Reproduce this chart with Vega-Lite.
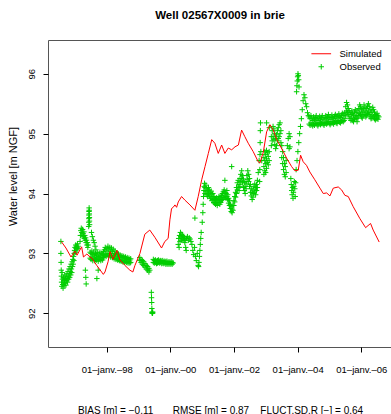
{
  "$schema": "https://vega.github.io/schema/vega-lite/v6.json",
  "autosize": {"type": "none"},
  "padding": {"left": 48, "top": 40, "right": 0, "bottom": 67},
  "width": 344,
  "height": 307,
  "background": "white",
  "title": {"text": "Well 02567X0009 in brie", "font": "Liberation Sans", "fontSize": 11.5, "fontWeight": "bold", "color": "black", "anchor": "middle", "frame": "group", "offset": 19},
  "config": {
    "view": {"stroke": "#555", "strokeWidth": 1},
    "font": "Liberation Sans",
    "axis": {"labelFont": "Liberation Sans", "titleFont": "Liberation Sans", "labelColor": "black", "titleColor": "black", "tickColor": "black", "domain": false, "grid": false, "tickSize": 5, "tickWidth": 1},
    "legend": {"title": null, "orient": "none", "legendX": 268.5, "legendY": 9, "labelFont": "Liberation Sans", "labelFontSize": 9.5, "labelColor": "black", "labelOffset": 13.5, "symbolSize": 30, "symbolStrokeWidth": 1, "rowPadding": 2, "padding": 0, "symbolFillColor": "transparent"}
  },
  "datasets": {
    "sim": [
      {"date":"1996-07-28","level":93.2},{"date":"1996-09-20","level":93.09},{"date":"1996-11-17","level":92.94},{"date":"1997-01-02","level":93.04},{"date":"1997-01-25","level":92.97},{"date":"1997-03-19","level":93.11},{"date":"1997-04-09","level":92.94},{"date":"1997-05-18","level":92.99},{"date":"1997-06-22","level":92.94},{"date":"1997-07-16","level":92.92},{"date":"1997-09-08","level":92.8},{"date":"1997-11-23","level":92.65},{"date":"1997-12-12","level":92.69},{"date":"1998-01-16","level":92.86},{"date":"1998-02-08","level":93.03},{"date":"1998-03-15","level":92.9},{"date":"1998-04-29","level":93.05},{"date":"1998-06-01","level":92.89},{"date":"1998-07-28","level":92.8},{"date":"1998-09-24","level":92.72},{"date":"1998-10-28","level":92.69},{"date":"1998-11-21","level":92.8},{"date":"1999-01-17","level":93.0},{"date":"1999-03-14","level":93.32},{"date":"1999-05-10","level":93.39},{"date":"1999-07-07","level":93.27},{"date":"1999-09-22","level":93.09},{"date":"1999-10-30","level":93.2},{"date":"1999-12-07","level":93.25},{"date":"1999-12-27","level":93.56},{"date":"2000-01-15","level":93.75},{"date":"2000-02-03","level":93.77},{"date":"2000-02-23","level":93.81},{"date":"2000-03-13","level":93.77},{"date":"2000-04-01","level":93.86},{"date":"2000-05-09","level":93.95},{"date":"2000-06-16","level":93.89},{"date":"2000-08-13","level":93.81},{"date":"2000-10-09","level":93.72},{"date":"2000-11-16","level":93.95},{"date":"2000-12-26","level":94.23},{"date":"2001-02-02","level":94.45},{"date":"2001-03-12","level":94.67},{"date":"2001-04-20","level":94.9},{"date":"2001-05-26","level":94.84},{"date":"2001-07-04","level":94.67},{"date":"2001-08-12","level":94.81},{"date":"2001-09-18","level":94.67},{"date":"2001-10-27","level":94.76},{"date":"2001-12-05","level":94.73},{"date":"2002-01-12","level":94.78},{"date":"2002-02-20","level":94.81},{"date":"2002-03-29","level":95.06},{"date":"2002-05-05","level":94.95},{"date":"2002-06-13","level":94.84},{"date":"2002-08-09","level":94.7},{"date":"2002-10-06","level":94.53},{"date":"2002-10-25","level":94.51},{"date":"2002-12-03","level":94.69},{"date":"2003-01-10","level":95.03},{"date":"2003-02-17","level":95.15},{"date":"2003-03-28","level":95.06},{"date":"2003-05-06","level":94.9},{"date":"2003-06-10","level":94.81},{"date":"2003-07-20","level":94.7},{"date":"2003-08-28","level":94.59},{"date":"2003-10-24","level":94.45},{"date":"2003-11-30","level":94.38},{"date":"2004-01-08","level":94.39},{"date":"2004-02-04","level":94.64},{"date":"2004-03-05","level":94.53},{"date":"2004-04-12","level":94.47},{"date":"2004-05-20","level":94.36},{"date":"2004-07-16","level":94.23},{"date":"2004-09-13","level":94.09},{"date":"2004-10-21","level":94.0},{"date":"2004-11-29","level":94.01},{"date":"2005-01-06","level":93.96},{"date":"2005-02-13","level":94.09},{"date":"2005-04-11","level":94.11},{"date":"2005-05-20","level":94.06},{"date":"2005-06-26","level":93.97},{"date":"2005-08-04","level":93.95},{"date":"2005-09-30","level":93.78},{"date":"2005-12-16","level":93.58},{"date":"2006-02-19","level":93.43},{"date":"2006-04-17","level":93.5},{"date":"2006-05-17","level":93.39},{"date":"2006-07-25","level":93.19}
    ],
    "obs": [
      {"date":"1996-07-24","level":93.2},{"date":"1996-07-24","level":93.0},{"date":"1996-07-26","level":92.85},{"date":"1996-07-28","level":92.72},{"date":"1996-07-30","level":92.62},{"date":"1996-08-01","level":92.52},{"date":"1996-08-04","level":92.45},{"date":"1996-08-07","level":92.68},{"date":"1996-08-10","level":92.57},{"date":"1996-08-14","level":92.48},{"date":"1996-08-18","level":92.42},{"date":"1996-08-22","level":92.6},{"date":"1996-08-26","level":92.52},{"date":"1996-08-30","level":92.46},{"date":"1996-09-03","level":92.55},{"date":"1996-09-07","level":92.64},{"date":"1996-09-11","level":92.5},{"date":"1996-09-15","level":92.58},{"date":"1996-09-19","level":92.47},{"date":"1996-09-23","level":92.62},{"date":"1996-09-27","level":92.55},{"date":"1996-10-01","level":92.66},{"date":"1996-10-05","level":92.58},{"date":"1996-10-09","level":92.52},{"date":"1996-10-13","level":92.7},{"date":"1996-10-17","level":92.62},{"date":"1996-10-21","level":92.57},{"date":"1996-10-25","level":92.74},{"date":"1996-10-29","level":92.66},{"date":"1996-11-02","level":92.6},{"date":"1996-11-06","level":92.78},{"date":"1996-11-10","level":92.7},{"date":"1996-11-14","level":92.64},{"date":"1996-11-18","level":92.82},{"date":"1996-11-22","level":92.74},{"date":"1996-11-26","level":92.68},{"date":"1996-11-30","level":92.86},{"date":"1996-12-04","level":92.78},{"date":"1996-12-08","level":92.9},{"date":"1996-12-12","level":92.82},{"date":"1996-12-16","level":92.95},{"date":"1996-12-20","level":92.88},{"date":"1996-12-24","level":93.0},{"date":"1996-12-28","level":93.05},{"date":"1997-01-02","level":93.1},{"date":"1997-01-06","level":93.02},{"date":"1997-01-10","level":93.14},{"date":"1997-01-14","level":93.08},{"date":"1997-01-18","level":93.12},{"date":"1997-01-22","level":93.06},{"date":"1997-01-26","level":93.1},{"date":"1997-01-30","level":93.16},{"date":"1997-02-03","level":93.08},{"date":"1997-02-07","level":93.12},
      {"date":"1997-03-01","level":93.2},{"date":"1997-03-05","level":93.3},{"date":"1997-03-10","level":93.38},{"date":"1997-03-15","level":93.42},{"date":"1997-03-20","level":93.35},{"date":"1997-03-25","level":93.3},{"date":"1997-03-30","level":93.4},{"date":"1997-04-04","level":93.33},{"date":"1997-04-09","level":93.28},{"date":"1997-04-14","level":93.36},{"date":"1997-04-19","level":93.25},{"date":"1997-04-24","level":93.3},{"date":"1997-04-29","level":93.22},{"date":"1997-05-04","level":93.26},{"date":"1997-05-09","level":93.18},{"date":"1997-05-14","level":93.22},{"date":"1997-05-19","level":93.14},{"date":"1997-05-24","level":93.18},{"date":"1997-05-29","level":93.1},{"date":"1997-06-03","level":93.14},
      {"date":"1997-06-08","level":93.45},{"date":"1997-06-09","level":93.52},{"date":"1997-06-10","level":93.58},{"date":"1997-06-11","level":93.64},{"date":"1997-06-12","level":93.7},{"date":"1997-06-13","level":93.76},{"date":"1997-06-14","level":93.72},{"date":"1997-06-15","level":93.66},{"date":"1997-06-16","level":93.6},{"date":"1997-06-17","level":93.54},{"date":"1997-06-18","level":93.48},
      {"date":"1997-07-10","level":93.35},{"date":"1997-07-20","level":93.28},{"date":"1997-08-01","level":93.22},{"date":"1997-08-10","level":93.18},{"date":"1997-08-20","level":93.12},{"date":"1997-08-30","level":93.06},
      {"date":"1997-05-01","level":92.72},{"date":"1997-05-06","level":92.6},{"date":"1997-05-10","level":92.49},{"date":"1997-09-10","level":92.58},{"date":"1997-09-25","level":92.72},
      {"date":"1997-06-25","level":93.02},{"date":"1997-06-25","level":92.92},{"date":"1997-07-05","level":93.0},{"date":"1997-07-05","level":92.9},{"date":"1997-07-15","level":93.04},{"date":"1997-07-15","level":92.94},{"date":"1997-07-25","level":92.98},{"date":"1997-07-25","level":92.88},{"date":"1997-08-05","level":93.02},{"date":"1997-08-05","level":92.92},{"date":"1997-08-15","level":92.96},{"date":"1997-08-15","level":92.88},{"date":"1997-08-25","level":93.0},{"date":"1997-08-25","level":92.9},{"date":"1997-09-05","level":92.97},{"date":"1997-09-05","level":92.89},{"date":"1997-09-15","level":93.01},{"date":"1997-09-15","level":92.91},{"date":"1997-09-25","level":92.95},{"date":"1997-09-25","level":92.87},{"date":"1997-10-05","level":92.99},{"date":"1997-10-05","level":92.9},{"date":"1997-10-15","level":93.02},{"date":"1997-10-15","level":92.93},{"date":"1997-10-25","level":92.96},{"date":"1997-10-25","level":92.88},{"date":"1997-11-05","level":93.0},{"date":"1997-11-05","level":92.91},{"date":"1997-11-15","level":92.98},{"date":"1997-11-15","level":92.89},{"date":"1997-11-25","level":93.03},{"date":"1997-11-25","level":92.93},{"date":"1997-12-05","level":93.06},{"date":"1997-12-05","level":92.96},{"date":"1997-12-15","level":93.1},{"date":"1997-12-15","level":92.98},{"date":"1997-12-25","level":93.04},{"date":"1997-12-25","level":92.95},{"date":"1998-01-05","level":93.08},{"date":"1998-01-05","level":92.97},{"date":"1998-01-15","level":93.12},{"date":"1998-01-15","level":93.0},{"date":"1998-01-25","level":93.06},{"date":"1998-01-25","level":92.96},{"date":"1998-02-05","level":93.1},{"date":"1998-02-05","level":92.99},{"date":"1998-02-15","level":93.04},{"date":"1998-02-15","level":92.94},{"date":"1998-02-25","level":93.09},{"date":"1998-02-25","level":92.97},{"date":"1998-03-07","level":93.03},{"date":"1998-03-07","level":92.93},{"date":"1998-03-17","level":93.07},{"date":"1998-03-17","level":92.96},{"date":"1998-03-27","level":93.0},{"date":"1998-03-27","level":92.91},{"date":"1998-04-06","level":93.04},{"date":"1998-04-06","level":92.94},{"date":"1998-04-16","level":92.98},{"date":"1998-04-16","level":92.9},{"date":"1998-04-26","level":93.01},{"date":"1998-04-26","level":92.91},{"date":"1998-05-06","level":92.97},{"date":"1998-05-06","level":92.89},{"date":"1998-05-16","level":92.99},{"date":"1998-05-16","level":92.9},{"date":"1998-05-26","level":92.95},{"date":"1998-05-26","level":92.88},{"date":"1998-06-05","level":92.97},{"date":"1998-06-05","level":92.89},{"date":"1998-06-15","level":92.94},{"date":"1998-06-15","level":92.87},{"date":"1998-06-25","level":92.96},{"date":"1998-06-25","level":92.88},{"date":"1998-07-05","level":92.93},{"date":"1998-07-05","level":92.86},{"date":"1998-07-15","level":92.95},{"date":"1998-07-15","level":92.87},{"date":"1998-07-25","level":92.92},{"date":"1998-07-25","level":92.85},{"date":"1998-08-04","level":92.94},{"date":"1998-08-04","level":92.87},{"date":"1998-08-14","level":92.91},{"date":"1998-08-14","level":92.85},{"date":"1998-08-24","level":92.93},{"date":"1998-08-24","level":92.86},{"date":"1998-09-03","level":92.9},{"date":"1998-09-03","level":92.84},{"date":"1998-09-13","level":92.92},{"date":"1998-09-13","level":92.86},{"date":"1998-09-23","level":92.89},{"date":"1998-09-23","level":92.84},{"date":"1998-10-03","level":92.91},{"date":"1998-10-03","level":92.85},
      {"date":"1999-01-15","level":92.93},{"date":"1999-01-15","level":92.88},{"date":"1999-01-30","level":92.9},{"date":"1999-01-30","level":92.85},{"date":"1999-02-14","level":92.88},{"date":"1999-02-14","level":92.82},{"date":"1999-03-01","level":92.86},{"date":"1999-03-01","level":92.8},{"date":"1999-03-16","level":92.83},{"date":"1999-03-16","level":92.77},{"date":"1999-03-31","level":92.8},{"date":"1999-03-31","level":92.74},{"date":"1999-04-15","level":92.78},{"date":"1999-04-15","level":92.72},{"date":"1999-04-30","level":92.75},{"date":"1999-04-30","level":92.69},{"date":"1999-05-10","level":92.72},
      {"date":"1999-05-28","level":92.35},{"date":"1999-05-30","level":92.26},{"date":"1999-06-01","level":92.18},{"date":"1999-06-03","level":92.08},{"date":"1999-06-05","level":92.02},{"date":"1999-06-07","level":92.0},{"date":"1999-06-09","level":92.01},{"date":"1999-06-11","level":92.0},{"date":"1999-06-13","level":92.02},
      {"date":"1999-06-20","level":92.9},{"date":"1999-06-20","level":92.85},{"date":"1999-07-02","level":92.88},{"date":"1999-07-02","level":92.84},{"date":"1999-07-14","level":92.89},{"date":"1999-07-14","level":92.85},{"date":"1999-07-26","level":92.87},{"date":"1999-07-26","level":92.83},{"date":"1999-08-07","level":92.88},{"date":"1999-08-07","level":92.84},{"date":"1999-08-19","level":92.89},{"date":"1999-08-19","level":92.85},{"date":"1999-08-31","level":92.87},{"date":"1999-08-31","level":92.84},{"date":"1999-09-12","level":92.88},{"date":"1999-09-12","level":92.85},{"date":"1999-09-24","level":92.87},{"date":"1999-09-24","level":92.83},{"date":"1999-10-06","level":92.88},{"date":"1999-10-06","level":92.84},{"date":"1999-10-18","level":92.86},{"date":"1999-10-18","level":92.83},{"date":"1999-10-30","level":92.87},{"date":"1999-10-30","level":92.84},{"date":"1999-11-11","level":92.86},{"date":"1999-11-11","level":92.82},{"date":"1999-11-23","level":92.87},{"date":"1999-11-23","level":92.83},{"date":"1999-12-05","level":92.85},{"date":"1999-12-05","level":92.82},{"date":"1999-12-17","level":92.86},{"date":"1999-12-17","level":92.83},{"date":"1999-12-29","level":92.85},{"date":"1999-12-29","level":92.82},{"date":"2000-01-10","level":92.86},{"date":"2000-01-10","level":92.83},{"date":"2000-01-22","level":92.85},{"date":"2000-01-22","level":92.82},{"date":"2000-02-03","level":92.84},
      {"date":"2000-04-01","level":93.15},{"date":"2000-04-06","level":93.25},{"date":"2000-04-11","level":93.1},{"date":"2000-04-16","level":93.3},{"date":"2000-04-21","level":93.2},{"date":"2000-04-26","level":93.35},{"date":"2000-05-01","level":93.28},{"date":"2000-05-06","level":93.22},{"date":"2000-05-11","level":93.32},{"date":"2000-05-16","level":93.26},{"date":"2000-05-21","level":93.3},{"date":"2000-05-26","level":93.24},{"date":"2000-05-31","level":93.28},{"date":"2000-06-05","level":93.22},{"date":"2000-06-10","level":93.26},{"date":"2000-06-15","level":93.18},{"date":"2000-06-20","level":93.22},{"date":"2000-06-25","level":93.1},{"date":"2000-07-01","level":93.05},{"date":"2000-07-05","level":93.25},{"date":"2000-07-15","level":93.28},{"date":"2000-07-25","level":93.22},{"date":"2000-08-05","level":93.26},{"date":"2000-08-15","level":93.24},{"date":"2000-08-25","level":93.2},
      {"date":"2000-09-05","level":93.15},{"date":"2000-09-15","level":93.05},{"date":"2000-09-25","level":92.98},{"date":"2000-10-05","level":93.1},{"date":"2000-10-15","level":92.95},{"date":"2000-10-25","level":92.88},{"date":"2000-11-05","level":93.0},{"date":"2000-11-15","level":92.8},{"date":"2000-11-20","level":92.78},{"date":"2000-11-25","level":92.85},{"date":"2000-11-30","level":92.95},{"date":"2000-12-05","level":93.05},{"date":"2000-12-10","level":93.15},{"date":"2000-12-15","level":93.25},{"date":"2000-12-20","level":93.35},
      {"date":"2000-10-09","level":93.59},{"date":"2001-01-01","level":93.52},{"date":"2001-01-08","level":93.68},
      {"date":"2001-01-12","level":93.82},{"date":"2001-01-16","level":93.95},{"date":"2001-01-20","level":94.05},{"date":"2001-01-24","level":94.12},{"date":"2001-01-28","level":94.17},
      {"date":"2001-02-02","level":94.1},{"date":"2001-02-02","level":94.0},{"date":"2001-02-12","level":94.14},{"date":"2001-02-12","level":94.03},{"date":"2001-02-22","level":94.08},{"date":"2001-02-22","level":93.98},{"date":"2001-03-04","level":94.05},{"date":"2001-03-04","level":93.95},{"date":"2001-03-14","level":94.1},{"date":"2001-03-14","level":94.0},{"date":"2001-03-24","level":94.06},{"date":"2001-03-24","level":93.96},{"date":"2001-04-03","level":94.02},{"date":"2001-04-03","level":93.92},{"date":"2001-04-13","level":94.04},{"date":"2001-04-13","level":93.94},{"date":"2001-04-23","level":93.98},{"date":"2001-04-23","level":93.88},{"date":"2001-05-03","level":94.0},{"date":"2001-05-03","level":93.9},{"date":"2001-05-13","level":93.95},{"date":"2001-05-13","level":93.85},{"date":"2001-05-23","level":93.92},{"date":"2001-05-23","level":93.84},
      {"date":"2001-06-02","level":93.9},{"date":"2001-06-02","level":93.82},{"date":"2001-06-12","level":93.93},{"date":"2001-06-12","level":93.85},{"date":"2001-06-22","level":93.88},{"date":"2001-06-22","level":93.8},{"date":"2001-07-02","level":93.92},{"date":"2001-07-02","level":93.84},{"date":"2001-07-12","level":93.95},{"date":"2001-07-12","level":93.86},{"date":"2001-07-22","level":93.9},{"date":"2001-07-22","level":93.82},{"date":"2001-08-01","level":93.94},{"date":"2001-08-01","level":93.85},{"date":"2001-08-11","level":93.97},{"date":"2001-08-11","level":93.88},{"date":"2001-08-21","level":94.0},{"date":"2001-08-21","level":93.9},{"date":"2001-08-31","level":94.03},{"date":"2001-08-31","level":93.93},{"date":"2001-09-10","level":94.06},{"date":"2001-09-10","level":93.96},{"date":"2001-09-20","level":94.02},{"date":"2001-09-20","level":93.94},{"date":"2001-09-18","level":94.22},{"date":"2001-12-05","level":94.45},
      {"date":"2001-10-01","level":94.0},{"date":"2001-10-01","level":93.92},{"date":"2001-10-11","level":94.05},{"date":"2001-10-11","level":93.95},{"date":"2001-10-21","level":93.98},{"date":"2001-10-21","level":93.9},{"date":"2001-10-31","level":93.92},{"date":"2001-10-31","level":93.84},{"date":"2001-11-10","level":93.88},{"date":"2001-11-10","level":93.8},{"date":"2001-11-20","level":93.82},{"date":"2001-11-20","level":93.75},{"date":"2001-11-30","level":93.78},{"date":"2001-11-30","level":93.7},{"date":"2001-12-10","level":93.74},{"date":"2001-12-10","level":93.68},{"date":"2001-12-20","level":93.8},{"date":"2001-12-20","level":93.72},{"date":"2001-12-30","level":93.88},{"date":"2001-12-30","level":93.8},{"date":"2002-01-09","level":93.95},{"date":"2002-01-09","level":93.86},{"date":"2002-01-19","level":94.02},{"date":"2002-01-19","level":93.94},{"date":"2002-01-29","level":94.1},{"date":"2002-01-29","level":94.0},{"date":"2002-02-08","level":94.18},{"date":"2002-02-08","level":94.06},{"date":"2002-02-18","level":94.22},{"date":"2002-02-18","level":94.1},
      {"date":"2002-02-28","level":94.15},{"date":"2002-02-28","level":94.05},{"date":"2002-03-10","level":94.25},{"date":"2002-03-10","level":94.12},{"date":"2002-03-20","level":94.32},{"date":"2002-03-20","level":94.2},{"date":"2002-03-30","level":94.38},{"date":"2002-03-30","level":94.25},{"date":"2002-04-09","level":94.3},{"date":"2002-04-09","level":94.18},{"date":"2002-04-19","level":94.24},{"date":"2002-04-19","level":94.1},{"date":"2002-04-29","level":94.18},{"date":"2002-04-29","level":94.05},{"date":"2002-05-09","level":94.12},{"date":"2002-05-09","level":94.0},{"date":"2002-05-19","level":94.2},{"date":"2002-05-19","level":94.08},{"date":"2002-05-29","level":94.3},{"date":"2002-05-29","level":94.16},{"date":"2002-06-08","level":94.38},{"date":"2002-06-08","level":94.24},{"date":"2002-06-18","level":94.32},{"date":"2002-06-18","level":94.2},{"date":"2002-06-28","level":94.25},{"date":"2002-06-28","level":94.12},
      {"date":"2002-07-08","level":94.15},{"date":"2002-07-08","level":94.02},{"date":"2002-07-18","level":94.08},{"date":"2002-07-18","level":93.96},{"date":"2002-07-28","level":94.02},{"date":"2002-07-28","level":93.9},{"date":"2002-08-07","level":94.06},{"date":"2002-08-07","level":93.94},{"date":"2002-08-17","level":94.12},{"date":"2002-08-17","level":94.0},{"date":"2002-08-27","level":94.16},{"date":"2002-08-27","level":94.04},{"date":"2002-09-06","level":94.1},{"date":"2002-09-06","level":93.98},{"date":"2002-09-16","level":94.15},{"date":"2002-09-16","level":94.05},{"date":"2002-09-26","level":94.22},{"date":"2002-09-26","level":94.1},
      {"date":"2002-10-06","level":94.35},{"date":"2002-10-16","level":94.55},{"date":"2002-10-22","level":94.2},{"date":"2002-10-24","level":94.4},{"date":"2002-10-26","level":94.65},{"date":"2002-10-28","level":94.85},{"date":"2002-10-30","level":95.05},{"date":"2002-11-01","level":95.18},{"date":"2002-11-05","level":94.7},{"date":"2002-11-15","level":94.55},
      {"date":"2002-12-10","level":94.6},{"date":"2002-12-10","level":94.45},{"date":"2002-12-10","level":94.32},{"date":"2002-12-20","level":94.7},{"date":"2002-12-20","level":94.55},{"date":"2002-12-20","level":94.38},{"date":"2002-12-30","level":94.65},{"date":"2002-12-30","level":94.5},{"date":"2002-12-30","level":94.35},{"date":"2003-01-09","level":94.72},{"date":"2003-01-09","level":94.58},{"date":"2003-01-09","level":94.42},{"date":"2003-01-19","level":94.68},{"date":"2003-01-19","level":94.52},{"date":"2003-01-29","level":94.62},{"date":"2003-01-29","level":94.48},{"date":"2003-02-08","level":94.7},{"date":"2003-02-08","level":94.55},{"date":"2003-01-10","level":95.18},{"date":"2003-02-10","level":95.1},
      {"date":"2003-03-05","level":94.95},{"date":"2003-03-05","level":94.8},{"date":"2003-03-15","level":95.05},{"date":"2003-03-15","level":94.88},{"date":"2003-03-25","level":95.12},{"date":"2003-03-25","level":94.95},{"date":"2003-04-04","level":95.08},{"date":"2003-04-04","level":94.9},{"date":"2003-04-14","level":95.0},{"date":"2003-04-14","level":94.82},{"date":"2003-04-24","level":94.92},{"date":"2003-04-24","level":94.75},{"date":"2003-05-04","level":94.98},{"date":"2003-05-04","level":94.8},{"date":"2003-05-14","level":95.05},{"date":"2003-05-14","level":94.88},{"date":"2003-05-24","level":95.1},{"date":"2003-05-24","level":94.92},{"date":"2003-06-03","level":95.15},{"date":"2003-06-03","level":94.95},{"date":"2003-06-13","level":95.18},{"date":"2003-06-13","level":95.0},{"date":"2003-06-23","level":95.05},{"date":"2003-06-23","level":94.85},
      {"date":"2003-07-03","level":94.8},{"date":"2003-07-03","level":94.6},{"date":"2003-07-13","level":94.7},{"date":"2003-07-13","level":94.5},{"date":"2003-07-23","level":94.6},{"date":"2003-07-23","level":94.4},{"date":"2003-08-02","level":94.5},{"date":"2003-08-02","level":94.32},{"date":"2003-08-12","level":94.45},{"date":"2003-08-12","level":94.28},{"date":"2003-08-22","level":94.55},{"date":"2003-08-22","level":94.35},
      {"date":"2003-09-05","level":94.8},{"date":"2003-09-15","level":94.92},{"date":"2003-09-25","level":95.0},{"date":"2003-09-25","level":94.75},{"date":"2003-10-05","level":94.95},{"date":"2003-10-05","level":94.78},
      {"date":"2003-10-15","level":94.25},{"date":"2003-10-20","level":94.15},{"date":"2003-10-25","level":94.05},{"date":"2003-10-30","level":93.98},{"date":"2003-11-04","level":94.1},{"date":"2003-11-09","level":93.92},{"date":"2003-11-14","level":94.02},{"date":"2003-11-19","level":94.12},{"date":"2003-11-24","level":94.2},{"date":"2003-11-29","level":94.08},{"date":"2003-12-04","level":93.95},{"date":"2003-12-09","level":94.18},
      {"date":"2003-12-20","level":95.7},{"date":"2003-12-24","level":95.8},{"date":"2003-12-28","level":95.88},{"date":"2004-01-01","level":95.95},{"date":"2004-01-05","level":96.0},{"date":"2004-01-09","level":95.97},{"date":"2004-01-13","level":95.9},{"date":"2004-01-17","level":95.78},
      {"date":"2003-12-15","level":94.4},{"date":"2003-12-25","level":94.55},{"date":"2004-01-04","level":94.7},{"date":"2004-01-14","level":94.85},{"date":"2004-01-24","level":95.0},{"date":"2004-02-03","level":95.12},{"date":"2004-02-13","level":95.25},
      {"date":"2004-02-23","level":95.4},{"date":"2004-03-04","level":95.55},{"date":"2004-03-14","level":95.65},{"date":"2004-03-24","level":95.6},{"date":"2004-04-03","level":95.5},{"date":"2004-04-13","level":95.45},{"date":"2004-04-23","level":95.35},{"date":"2004-05-03","level":95.3},
      {"date":"2004-05-13","level":95.28},{"date":"2004-05-13","level":95.16},{"date":"2004-05-23","level":95.25},{"date":"2004-05-23","level":95.14},{"date":"2004-06-02","level":95.3},{"date":"2004-06-02","level":95.18},{"date":"2004-06-12","level":95.26},{"date":"2004-06-12","level":95.15},{"date":"2004-06-22","level":95.22},{"date":"2004-06-22","level":95.13},{"date":"2004-07-02","level":95.28},{"date":"2004-07-02","level":95.16},{"date":"2004-07-12","level":95.24},{"date":"2004-07-12","level":95.14},{"date":"2004-07-22","level":95.27},{"date":"2004-07-22","level":95.17},{"date":"2004-08-01","level":95.3},{"date":"2004-08-01","level":95.18},{"date":"2004-08-11","level":95.25},{"date":"2004-08-11","level":95.15},{"date":"2004-08-21","level":95.22},{"date":"2004-08-21","level":95.13},{"date":"2004-08-31","level":95.26},{"date":"2004-08-31","level":95.16},{"date":"2004-09-10","level":95.29},{"date":"2004-09-10","level":95.18},{"date":"2004-09-20","level":95.24},{"date":"2004-09-20","level":95.15},{"date":"2004-09-30","level":95.27},{"date":"2004-09-30","level":95.17},{"date":"2004-10-10","level":95.3},{"date":"2004-10-10","level":95.19},{"date":"2004-10-20","level":95.26},{"date":"2004-10-20","level":95.16},{"date":"2004-10-30","level":95.23},{"date":"2004-10-30","level":95.14},{"date":"2004-11-09","level":95.27},{"date":"2004-11-09","level":95.17},{"date":"2004-11-19","level":95.3},{"date":"2004-11-19","level":95.19},{"date":"2004-11-29","level":95.25},{"date":"2004-11-29","level":95.16},{"date":"2004-12-09","level":95.28},{"date":"2004-12-09","level":95.18},{"date":"2004-12-19","level":95.32},{"date":"2004-12-19","level":95.2},{"date":"2004-12-29","level":95.27},{"date":"2004-12-29","level":95.17},{"date":"2005-01-08","level":95.24},{"date":"2005-01-08","level":95.15},{"date":"2005-01-18","level":95.28},{"date":"2005-01-18","level":95.17},{"date":"2005-01-28","level":95.31},{"date":"2005-01-28","level":95.2},{"date":"2005-02-07","level":95.27},{"date":"2005-02-07","level":95.18},{"date":"2005-02-17","level":95.25},{"date":"2005-02-17","level":95.16},{"date":"2005-02-27","level":95.29},{"date":"2005-02-27","level":95.19},{"date":"2005-03-09","level":95.32},{"date":"2005-03-09","level":95.21},{"date":"2005-03-19","level":95.28},{"date":"2005-03-19","level":95.18},{"date":"2005-03-29","level":95.26},{"date":"2005-03-29","level":95.17},{"date":"2005-04-08","level":95.3},{"date":"2005-04-08","level":95.2},{"date":"2005-04-18","level":95.33},{"date":"2005-04-18","level":95.22},{"date":"2005-04-28","level":95.29},{"date":"2005-04-28","level":95.19},{"date":"2005-05-08","level":95.27},{"date":"2005-05-08","level":95.18},{"date":"2005-05-18","level":95.31},{"date":"2005-05-18","level":95.21},{"date":"2005-05-28","level":95.34},{"date":"2005-05-28","level":95.22},{"date":"2005-06-07","level":95.3},{"date":"2005-06-07","level":95.2},{"date":"2005-06-17","level":95.33},{"date":"2005-06-17","level":95.22},
      {"date":"2005-06-26","level":95.35},{"date":"2005-06-26","level":95.25},{"date":"2005-07-06","level":95.45},{"date":"2005-07-06","level":95.3},{"date":"2005-07-16","level":95.52},{"date":"2005-07-16","level":95.38},{"date":"2005-07-26","level":95.48},{"date":"2005-07-26","level":95.36},{"date":"2005-08-05","level":95.42},{"date":"2005-08-05","level":95.32},{"date":"2005-08-15","level":95.38},{"date":"2005-08-15","level":95.28},{"date":"2005-08-25","level":95.35},{"date":"2005-08-25","level":95.25},{"date":"2005-09-04","level":95.32},{"date":"2005-09-04","level":95.22},{"date":"2005-09-14","level":95.38},{"date":"2005-09-14","level":95.26},{"date":"2005-09-24","level":95.34},{"date":"2005-09-24","level":95.22},{"date":"2005-10-04","level":95.3},{"date":"2005-10-04","level":95.2},{"date":"2005-10-14","level":95.36},{"date":"2005-10-14","level":95.24},{"date":"2005-10-24","level":95.4},{"date":"2005-10-24","level":95.28},{"date":"2005-11-03","level":95.35},{"date":"2005-11-03","level":95.25},{"date":"2005-11-13","level":95.3},{"date":"2005-11-13","level":95.2},{"date":"2005-11-23","level":95.38},{"date":"2005-11-23","level":95.26},{"date":"2005-12-03","level":95.42},{"date":"2005-12-03","level":95.3},
      {"date":"2005-12-13","level":95.48},{"date":"2005-12-13","level":95.34},{"date":"2005-12-23","level":95.45},{"date":"2005-12-23","level":95.32},{"date":"2006-01-02","level":95.4},{"date":"2006-01-02","level":95.28},{"date":"2006-01-12","level":95.36},{"date":"2006-01-12","level":95.26},{"date":"2006-01-22","level":95.42},{"date":"2006-01-22","level":95.3},{"date":"2006-02-01","level":95.48},{"date":"2006-02-01","level":95.36},{"date":"2006-02-11","level":95.44},{"date":"2006-02-11","level":95.32},{"date":"2006-02-21","level":95.38},{"date":"2006-02-21","level":95.28},{"date":"2006-03-03","level":95.42},{"date":"2006-03-03","level":95.3},{"date":"2006-03-13","level":95.46},{"date":"2006-03-13","level":95.34},{"date":"2006-03-23","level":95.5},{"date":"2006-03-23","level":95.36},{"date":"2006-04-02","level":95.45},{"date":"2006-04-02","level":95.32},{"date":"2006-04-12","level":95.4},{"date":"2006-04-12","level":95.28},{"date":"2006-04-22","level":95.35},{"date":"2006-04-22","level":95.25},{"date":"2006-05-02","level":95.38},{"date":"2006-05-02","level":95.26},{"date":"2006-05-12","level":95.44},{"date":"2006-05-12","level":95.3},{"date":"2006-05-22","level":95.4},{"date":"2006-05-22","level":95.28},{"date":"2006-06-01","level":95.36},{"date":"2006-06-01","level":95.25},{"date":"2006-06-11","level":95.32},{"date":"2006-06-11","level":95.23},{"date":"2006-06-21","level":95.3},{"date":"2006-06-21","level":95.25},{"date":"2006-07-01","level":95.34},{"date":"2006-07-01","level":95.26},{"date":"2006-07-11","level":95.3},{"date":"2006-07-11","level":95.24},{"date":"2006-07-21","level":95.28}
    ]
  },
  "encoding": {
    "x": {
      "field": "date", "type": "temporal",
      "scale": {"domain": [{"year": 1996, "month": 2, "date": 27}, {"year": 2006, "month": 12, "date": 19}]},
      "axis": {
        "values": [{"year": 1998, "month": 1, "date": 1}, {"year": 2000, "month": 1, "date": 1}, {"year": 2002, "month": 1, "date": 1}, {"year": 2004, "month": 1, "date": 1}, {"year": 2006, "month": 1, "date": 1}],
        "labelExpr": "'01–janv.–' + timeFormat(datum.value, '%y')",
        "labelFontSize": 9.5, "labelBaseline": "alphabetic", "labelPadding": 20, "labelAlign": "center", "labelFlush": false,
        "title": "BIAS [m] = −0.11\u00a0\u00a0\u00a0\u00a0\u00a0\u00a0 RMSE [m] = 0.87\u00a0\u00a0\u00a0 FLUCT.SD.R [−] = 0.64",
        "titleFontSize": 10, "titleFontWeight": "normal", "titleBaseline": "alphabetic", "titleAlign": "center", "titleAnchor": "middle", "titleX": 172, "titleY": 66
      }
    },
    "y": {
      "field": "level", "type": "quantitative",
      "scale": {"domain": [91.437, 96.564], "nice": false, "zero": false},
      "axis": {
        "values": [92, 93, 94, 95, 96],
        "labelAngle": -90, "labelAlign": "center", "labelBaseline": "alphabetic", "labelPadding": 9, "labelFontSize": 9.5,
        "title": "Water level [m NGF]", "titleFontSize": 11, "titleFontWeight": "normal", "titleAngle": -90, "titleAlign": "center", "titleBaseline": "alphabetic", "titleX": -32, "titleY": 136
      }
    }
  },
  "layer": [
    {
      "data": {"name": "obs"},
      "mark": {"type": "point", "filled": false, "size": 30, "strokeWidth": 1, "opacity": 1},
      "encoding": {
        "color": {
          "datum": "Observed",
          "scale": {"domain": ["Simulated", "Observed"], "range": ["#FF0000", "#00CD00"]},
          "legend": {"title": null}
        },
        "shape": {
          "datum": "Observed",
          "scale": {"domain": ["Simulated", "Observed"], "range": ["M-3.6,0H3.6", "M-1,0H1M0,-1V1"]},
          "legend": {"title": null}
        }
      }
    },
    {
      "data": {"name": "sim"},
      "mark": {"type": "line", "strokeWidth": 1},
      "encoding": {
        "color": {"datum": "Simulated"}
      }
    }
  ]
}
